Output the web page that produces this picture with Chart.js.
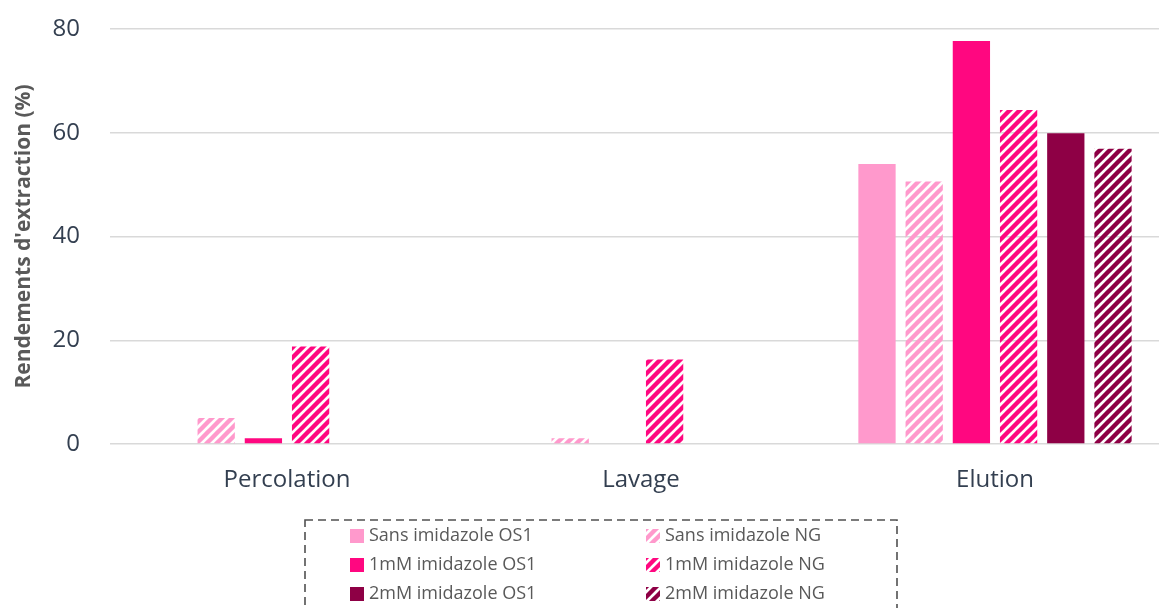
<!DOCTYPE html>
<html>
<head>
<meta charset="utf-8">
<script src="https://cdn.jsdelivr.net/npm/chart.js@4/dist/chart.umd.min.js"></script>
<style>
  html, body { margin: 0; padding: 0; background: #ffffff; overflow: hidden; }
  #wrap { width: 1172px; height: 608px; position: relative; }
</style>
</head>
<body>
<div id="wrap"><canvas id="chart"></canvas></div>
<script>
// Extraction steps
const categories = ['Percolation', 'Lavage', 'Elution'];

// Extraction yields (%) per condition
const sansOS1 = [0, 0, 54.0];
const sansNG = [5.0, 1.1, 50.6];
const mM1OS1 = [1.1, 0, 77.7];
const mM1NG = [18.8, 16.3, 64.4];
const mM2OS1 = [0, 0, 59.9];
const mM2NG = [0, 0, 56.9];

const seriesNames = [
  'Sans imidazole OS1', 'Sans imidazole NG',
  '1mM imidazole OS1', '1mM imidazole NG',
  '2mM imidazole OS1', '2mM imidazole NG'
];
const yTicks = [0, 20, 40, 60, 80];

const LIGHT = '#FF99CC';
const MAGENTA = '#FF0780';
const DARK = '#8E0045';

// Wide upward-diagonal hatch fill
function hatch(color) {
  const s = 10;
  const c = document.createElement('canvas');
  c.width = s; c.height = s;
  const g = c.getContext('2d');
  g.strokeStyle = color;
  g.lineWidth = 4.4;
  g.lineCap = 'square';
  for (const o of [-s, 0, s]) {
    g.beginPath();
    g.moveTo(o - 1, s + 1);
    g.lineTo(o + s + 1, -1);
    g.stroke();
  }
  return g.createPattern(c, 'repeat');
}

const fills = [LIGHT, hatch(LIGHT), MAGENTA, hatch(MAGENTA), DARK, hatch(DARK)];
const values = [sansOS1, sansNG, mM1OS1, mM1NG, mM2OS1, mM2NG];

const datasets = values.map((v, i) => ({
  label: seriesNames[i],
  data: v,
  backgroundColor: fills[i],
  borderWidth: 0,
  categoryPercentage: 0.8,
  barPercentage: 0.79
}));

// Two-column legend inside a dashed frame
const boxedLegend = {
  id: 'boxedLegend',
  afterDraw(chart) {
    const ctx = chart.ctx;
    ctx.save();
    ctx.strokeStyle = '#505050';
    ctx.lineWidth = 1.6;
    ctx.setLineDash([8, 5]);
    ctx.strokeRect(305, 520, 592, 120);
    ctx.setLineDash([]);
    ctx.font = '18px "Open Sans"';
    ctx.textBaseline = 'middle';
    const colX = [350, 646];
    const rowY = [536, 565, 594];
    chart.data.datasets.forEach((ds, i) => {
      const x = colX[i % 2];
      const y = rowY[Math.floor(i / 2)];
      ctx.fillStyle = ds.backgroundColor;
      ctx.save();
      ctx.translate(x, y - 7);
      ctx.fillRect(0, 0, 14, 14);
      ctx.restore();
      ctx.fillStyle = '#595959';
      ctx.fillText(ds.label, x + 19, y);
    });
    ctx.restore();
  }
};

new Chart(document.getElementById('chart'), {
  type: 'bar',
  data: { labels: categories, datasets },
  plugins: [boxedLegend],
  options: {
    responsive: true,
    maintainAspectRatio: false,
    animation: false,
    layout: { padding: { top: 29, right: 0, bottom: 114, left: 0 } },
    plugins: { legend: { display: false }, tooltip: { enabled: false } },
    scales: {
      x: {
        afterFit(scale) { scale.height = 50; },
        grid: { display: false, drawTicks: false },
        border: { display: false },
        ticks: { color: '#333F50', font: { family: 'Open Sans', size: 24 }, padding: 22 }
      },
      y: {
        min: 0,
        max: 80,
        afterBuildTicks(scale) { scale.ticks = yTicks.map(v => ({ value: v })); },
        afterFit(scale) {
          scale.width = 110;
          scale.paddingTop = 0;
          scale.paddingBottom = 0;
        },
        grid: { color: '#D9D9D9', lineWidth: 1.5, drawTicks: false },
        border: { display: false },
        ticks: { color: '#333F50', font: { family: 'Open Sans', size: 24 }, padding: 30 },
        title: {
          display: true,
          text: "Rendements d'extraction (%)",
          color: '#595959',
          font: { family: 'Open Sans', size: 21, weight: 'bold' },
          padding: { top: 11, bottom: 0 }
        }
      }
    }
  }
});
</script>
</body>
</html>
